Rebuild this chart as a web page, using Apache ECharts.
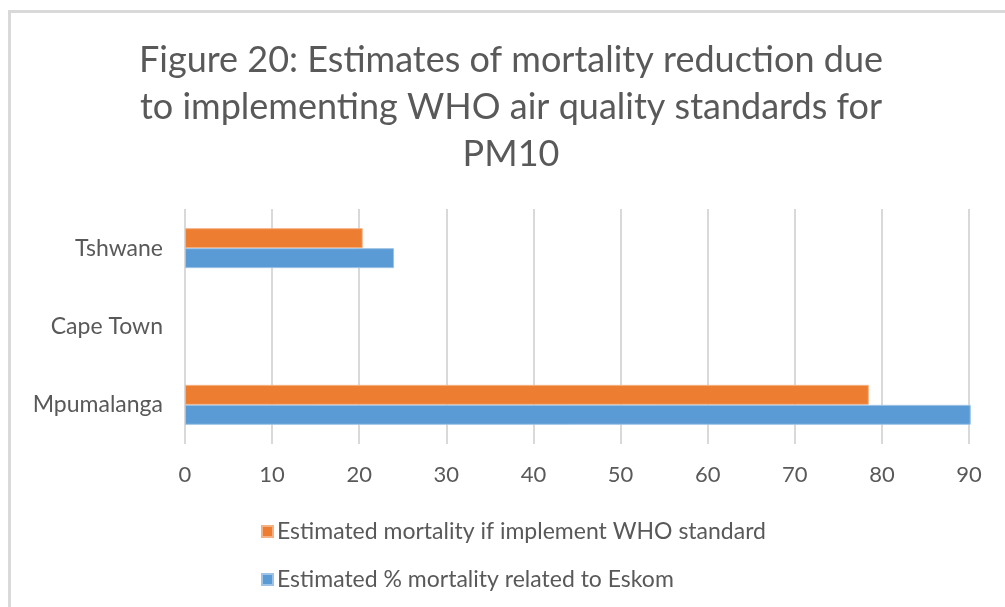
<!DOCTYPE html>
<html>
<head>
<meta charset="utf-8">
<script src="https://cdn.jsdelivr.net/npm/echarts@6/dist/echarts.min.js"></script>
<style>
  html, body { margin: 0; padding: 0; background: #fff; }
  #chart { width: 1005px; height: 607px; }
  .frame {
    position: absolute; left: 8px; top: 10px;
    width: 1100px; height: 700px;
    border: 3px solid #d9d9d9; pointer-events: none;
  }
</style>
</head>
<body>
<div id="chart"></div>
<div class="frame"></div>
<script>
// categories bottom -> top, as on the picture
const regions = ['Mpumalanga', 'Cape Town', 'Tshwane']
const whoStandard = [78.5, null, 20.4]
const eskomShare = [90.2, null, 24.0]
const xTicks = [0, 10, 20, 30, 40, 50, 60, 70, 80, 90]

const labelFont = "Lato, 'Open Sans', sans-serif"

const myChart = echarts.init(document.getElementById('chart'))
const option = {
  title: {
    text: 'Figure 20: Estimates of mortality reduction due\nto implementing WHO air quality standards for\nPM10',
    left: 506,
    top: 32,
    textAlign: 'center',
    textStyle: {
      fontFamily: labelFont,
      fontSize: 36,
      fontWeight: 'normal',
      color: '#595959',
      lineHeight: 47
    }
  },
  legend: {
    orient: 'vertical',
    left: 256,
    top: 515,
    itemGap: 25,
    itemWidth: 11,
    itemHeight: 11,
    icon: 'rect',
    data: ['Estimated mortality if implement WHO standard', 'Estimated % mortality related to Eskom'],
    textStyle: { fontFamily: labelFont, fontSize: 23, color: '#595959', padding: [0, 0, 0, -1] }
  },
  grid: {
    left: 185,
    right: 36,
    top: 209,
    bottom: 163
  },
  xAxis: {
    type: 'value',
    min: xTicks[0],
    max: xTicks[xTicks.length - 1],
    interval: 10,
    axisLine: { show: false },
    axisTick: { show: false },
    splitLine: { lineStyle: { color: '#d9d9d9', width: 2 } },
    axisLabel: { fontFamily: labelFont, fontSize: 22, color: '#595959', margin: 20 }
  },
  yAxis: {
    type: 'category',
    data: regions,
    axisLine: { show: false },
    axisTick: { show: false },
    axisLabel: { fontFamily: labelFont, fontSize: 23, color: '#595959', margin: 22 }
  },
  series: [
    {
      name: 'Estimated mortality if implement WHO standard',
      type: 'bar',
      data: whoStandard,
      clip: false,
      barGap: '0%',
      barCategoryGap: '49%',
      itemStyle: { color: '#ed7d31', borderColor: '#f4b183', borderWidth: 1 }
    },
    {
      name: 'Estimated % mortality related to Eskom',
      type: 'bar',
      data: eskomShare,
      clip: false,
      barGap: '0%',
      barCategoryGap: '49%',
      itemStyle: { color: '#5b9bd5', borderColor: '#9dc3e6', borderWidth: 1 }
    }
  ]
}
myChart.setOption(option)
</script>
</body>
</html>
